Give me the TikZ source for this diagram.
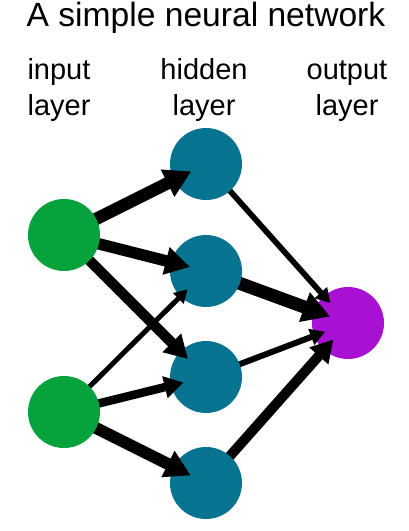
\documentclass[tikz,border=0pt]{standalone}
\usepackage{fontspec}
\setmainfont{Liberation Sans}
\usetikzlibrary{arrows.meta}
\definecolor{ingreen}{RGB}{6,162,60}
\definecolor{hidteal}{RGB}{6,116,145}
\definecolor{outpurple}{RGB}{168,17,211}
\tikzset{
  neuron/.style={circle, minimum size=72pt, inner sep=0pt},
  lbl/.style={anchor=base, font=\fontsize{29}{34}\selectfont, inner sep=0pt},
  ttl/.style={anchor=base, font=\fontsize{33.6}{38}\selectfont, inner sep=0pt},
  wedge/.style={line width=#1pt, -{Triangle[length=4pt 1.8, width=5pt 1.9]}},
}
\begin{document}
\begin{tikzpicture}[x=1pt, y=-1pt]
\useasboundingbox (0,0) rectangle (408,531);
% texts
\node[ttl] (title) at (206,26.5) {A simple neural network};
\node[lbl] (l1a) at (59,79) {input};
\node[lbl] (l1b) at (59,115) {layer};
\node[lbl] (l2a) at (204,79) {hidden};
\node[lbl] (l2b) at (204,115) {layer};
\node[lbl] (l3a) at (347,79) {output};
\node[lbl] (l3b) at (347,115) {layer};
% neuron positions
\node[neuron] (i1) at (64,235) {};
\node[neuron] (i2) at (64,412) {};
\node[neuron] (h1) at (206,164) {};
\node[neuron] (h2) at (206,271) {};
\node[neuron] (h3) at (206,377) {};
\node[neuron] (h4) at (206,483) {};
\node[neuron] (o) at (348,323) {};
% output neuron
\fill[outpurple] (o.center) circle[radius=36pt];
% hidden -> output
\draw[wedge=5.7, shorten >=26.5pt] (h1.center) -- (o.center);
\draw[wedge=13, shorten >=19pt] (h2.center) -- (o.center);
\draw[wedge=6, shorten >=24.5pt] (h3.center) -- (o.center);
\draw[wedge=10, shorten >=22pt] (h4.center) -- (o.center);
% hidden neurons
\foreach \n in {h1,h2,h3,h4}
  \fill[hidteal] (\n.center) circle[radius=36pt];
% input -> hidden
\draw[wedge=12.5, shorten >=16.5pt] (i1.center) -- (h1.center);
\draw[wedge=11.5, shorten >=16.5pt] (i1.center) -- (h2.center);
\draw[wedge=10.5, shorten >=25.5pt] (i1.center) -- (h3.center);
\draw[wedge=5, shorten >=26pt] (i2.center) -- (h2.center);
\draw[wedge=8.5, shorten >=23pt] (i2.center) -- (h3.center);
\draw[wedge=12, shorten >=17pt] (i2.center) -- (h4.center);
% input neurons
\foreach \n in {i1,i2}
  \fill[ingreen] (\n.center) circle[radius=36pt];
\end{tikzpicture}
\end{document}
